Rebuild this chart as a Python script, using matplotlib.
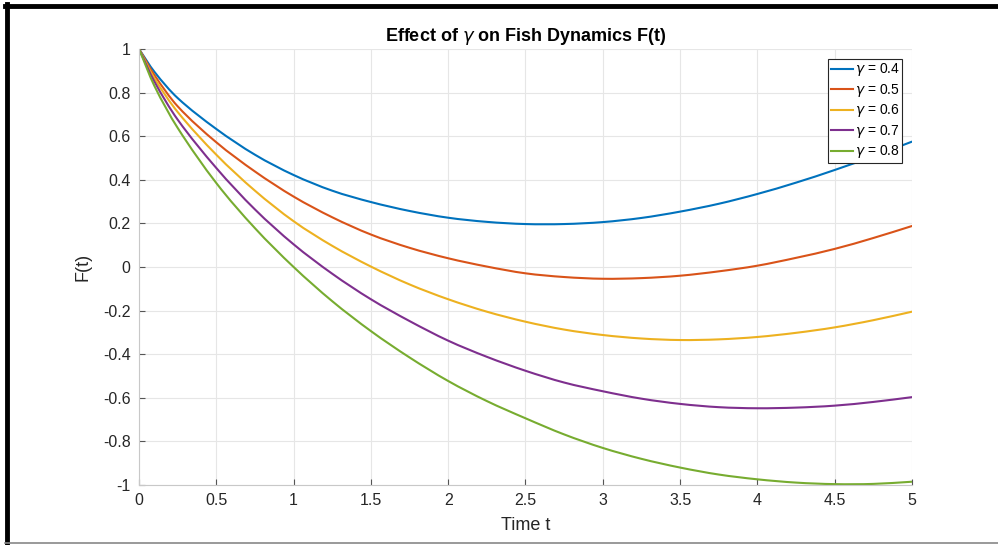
import matplotlib.pyplot as plt
from matplotlib.lines import Line2D
from matplotlib.patches import PathPatch
from matplotlib.path import Path
from matplotlib.ticker import FuncFormatter, MultipleLocator

plt.rcParams['font.family'] = ['Liberation Sans', 'DejaVu Sans']
plt.rcParams['axes.unicode_minus'] = False

# time samples and F(t) for each gamma
t = [0, 0.1, 0.25, 0.5, 0.75, 1, 1.25, 1.5, 1.75, 2, 2.25, 2.5, 2.75,
     3, 3.25, 3.5, 3.75, 4, 4.25, 4.5, 4.75, 5]
gammas = [0.4, 0.5, 0.6, 0.7, 0.8]
F_04 = [1, 0.895, 0.775, 0.633, 0.515, 0.422, 0.350, 0.298, 0.257, 0.226, 0.207,
        0.197, 0.197, 0.206, 0.225, 0.254, 0.290, 0.335, 0.387, 0.445, 0.508, 0.575]
F_05 = [1, 0.880, 0.737, 0.572, 0.438, 0.323, 0.228, 0.149, 0.088, 0.040, 0.002,
        -0.029, -0.046, -0.054, -0.051, -0.040, -0.020, 0.006, 0.042, 0.083, 0.133, 0.188]
F_06 = [1, 0.865, 0.711, 0.515, 0.350, 0.210, 0.097, 0.002, -0.080, -0.148, -0.205,
        -0.251, -0.287, -0.312, -0.328, -0.335, -0.332, -0.321, -0.302, -0.277, -0.244, -0.205]
F_07 = [1, 0.850, 0.676, 0.454, 0.264, 0.104, -0.031, -0.148, -0.248, -0.338, -0.412,
        -0.476, -0.530, -0.570, -0.604, -0.628, -0.643, -0.648, -0.645, -0.636, -0.619, -0.597]
F_08 = [1, 0.830, 0.638, 0.385, 0.178, 0.000, -0.157, -0.294, -0.415, -0.523, -0.615,
        -0.694, -0.768, -0.830, -0.880, -0.920, -0.952, -0.974, -0.989, -0.996, -0.995, -0.985]
series = [F_04, F_05, F_06, F_07, F_08]
colors = ['#0072BD', '#D95319', '#EDB120', '#7E2F8E', '#77AC30']


def smooth_path(x, y):
    # cubic Bezier segments through the samples (Hermite tangents)
    n = len(x)
    m = []
    for i in range(n):
        a, b = max(i - 1, 0), min(i + 1, n - 1)
        m.append((y[b] - y[a]) / (x[b] - x[a]))
    verts = [(x[0], y[0])]
    codes = [Path.MOVETO]
    for i in range(n - 1):
        h = x[i + 1] - x[i]
        verts += [(x[i] + h / 3, y[i] + m[i] * h / 3),
                  (x[i + 1] - h / 3, y[i + 1] - m[i + 1] * h / 3),
                  (x[i + 1], y[i + 1])]
        codes += [Path.CURVE4] * 3
    return Path(verts, codes)


fig = plt.figure(figsize=(9.98, 5.45), dpi=100)
ax = fig.add_axes([0.1393, 0.1101, 0.7745, 0.8000])

handles = []
for g, F, c in zip(gammas, series, colors):
    ax.add_patch(PathPatch(smooth_path(t, F), fill=False, edgecolor=c, lw=1.5,
                           capstyle='round', joinstyle='round'))
    handles.append(Line2D([], [], color=c, lw=1.5, label=r'$\gamma$ = %.1f' % g))

ax.set_xlim(0, 5)
ax.set_ylim(-1, 1)
ax.xaxis.set_major_locator(MultipleLocator(0.5))
ax.yaxis.set_major_locator(MultipleLocator(0.2))
fmt = FuncFormatter(lambda v, pos: '%g' % round(v, 6) if abs(v) > 1e-9 else '0')
ax.xaxis.set_major_formatter(fmt)
ax.yaxis.set_major_formatter(fmt)
ax.tick_params(direction='in', length=4, color='#555555', labelsize=11.5,
               labelcolor='#262626', pad=6)
ax.grid(True, color='#e6e6e6', lw=0.8)
ax.set_axisbelow(True)
for side in ['top', 'right']:
    ax.spines[side].set_visible(False)
for side in ['left', 'bottom']:
    ax.spines[side].set_color('#c8c8c8')

ax.set_title(r'Effect of $\gamma$ on Fish Dynamics F(t)', fontsize=13,
             fontweight='bold', pad=6)
ax.set_xlabel('Time t', fontsize=13, color='#262626', labelpad=6)
ax.set_ylabel('F(t)', fontsize=13, color='#262626', labelpad=8)

leg = ax.legend(handles=handles, loc='upper right', fontsize=10, handlelength=1.6,
                handletextpad=0.1, labelspacing=0.25, borderpad=0.2,
                borderaxespad=0.7, fancybox=False, framealpha=1)
leg.get_frame().set_edgecolor('#262626')
leg.get_frame().set_linewidth(0.8)

# frame around the figure
fig.add_artist(Line2D([0.005, 1.0], [0.9899, 0.9899], color='black', lw=3.5,
                      transform=fig.transFigure))
fig.add_artist(Line2D([0.0075, 0.0075], [0.0, 0.9925], color='black', lw=3.5,
                      transform=fig.transFigure))
fig.add_artist(Line2D([0.005, 1.0], [0.0028, 0.0028], color='#888888', lw=1.2,
                      transform=fig.transFigure))

fig.savefig('out.png', dpi=100)
